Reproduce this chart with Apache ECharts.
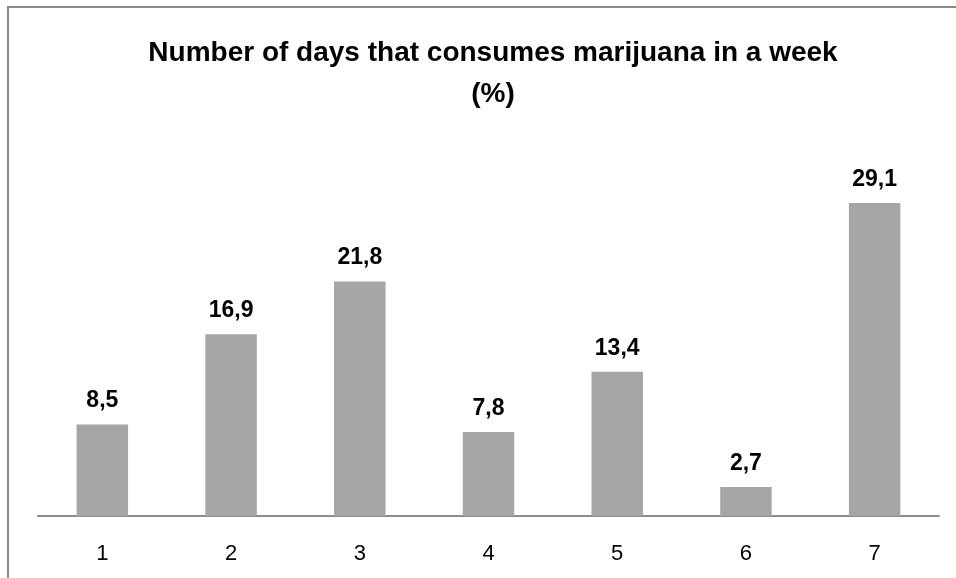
<!DOCTYPE html>
<html>
<head>
<meta charset="utf-8">
<script src="https://cdn.jsdelivr.net/npm/echarts@6/dist/echarts.min.js"></script>
<style>
html,body{margin:0;padding:0;background:#fff;}
#chart{width:956px;height:578px;}
</style>
</head>
<body>
<div id="chart"></div>
<script>
const categories = ['1', '2', '3', '4', '5', '6', '7'];
const values = [8.5, 16.9, 21.8, 7.8, 13.4, 2.7, 29.1];
const titleText = 'Number of days that consumes marijuana in a week\n(%)';

const chart = echarts.init(document.getElementById('chart'));
chart.setOption({
  backgroundColor: '#ffffff',
  animation: false,
  title: {
    text: titleText,
    left: 488,
    top: 28,
    textAlign: 'center',
    textStyle: {
      fontFamily: 'Liberation Sans',
      fontSize: 28,
      fontWeight: 'bold',
      color: '#000000',
      lineHeight: 41
    }
  },
  graphic: [{
    type: 'rect',
    shape: { x: 8, y: 7, width: 1200, height: 1200 },
    style: { fill: 'none', stroke: '#898989', lineWidth: 2 },
    silent: true
  }],
  grid: { left: 38, right: 17, top: 139.4, bottom: 62, containLabel: false },
  xAxis: {
    type: 'category',
    data: categories,
    axisLine: { lineStyle: { color: '#8c8c8c', width: 2 } },
    axisTick: { show: false },
    axisLabel: {
      fontFamily: 'Liberation Sans',
      fontSize: 22,
      color: '#000000',
      margin: 27
    }
  },
  yAxis: {
    type: 'value',
    min: 0,
    max: 35,
    show: false,
    splitLine: { show: false }
  },
  series: [{
    type: 'bar',
    data: values,
    barWidth: '40%',
    itemStyle: { color: '#a6a6a6' },
    label: {
      show: true,
      position: 'top',
      distance: 12,
      fontFamily: 'Liberation Sans',
      fontSize: 23,
      fontWeight: 'bold',
      color: '#000000',
      formatter: p => String(p.value).replace('.', ',')
    }
  }]
});
</script>
</body>
</html>
